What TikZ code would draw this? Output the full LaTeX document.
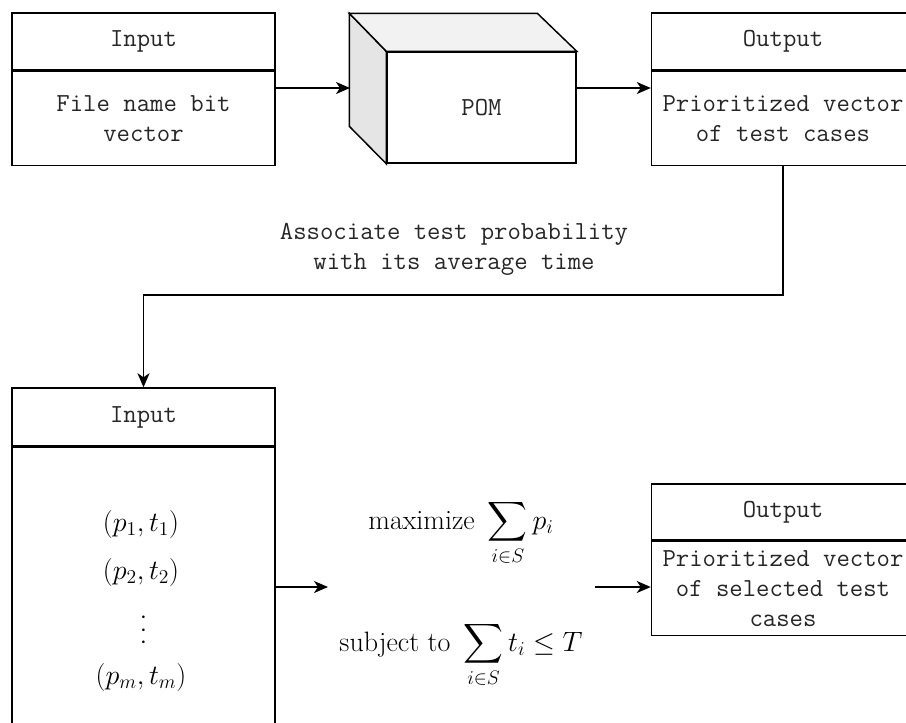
\documentclass[tikz,border=0pt]{standalone}
\usepackage{fix-cm}
\usepackage{amsmath}
\usepackage{fontspec}
\usetikzlibrary{arrows.meta,calc}
\newcommand{\px}{0.75pt}
\begin{document}
\begin{tikzpicture}[x=0.75pt,y=-0.75pt,line width=1.1pt,
  hdr/.style={draw,minimum width=263*\px,text=black!85,font=\ttfamily\fontsize{19.5}{22.5}\selectfont},
  body/.style={draw,minimum width=263*\px,align=center,text=black!85,font=\ttfamily\fontsize{19.5}{22.5}\selectfont},
  arr/.style={-{Stealth[length=14*\px,width=12*\px,inset=4*\px]}},
  mth/.style={font=\fontsize{21}{25}\selectfont}]
\useasboundingbox (0,0) rectangle (906,722);
\clip (0,0) rectangle (906,722);
% first row
\node[hdr,minimum height=57*\px] (in1h) at (143.5,41.5) {Input};
\node[body,minimum height=94*\px,anchor=north] (in1b) at (in1h.south) {File name bit\\vector};
\node[draw,fill=white,minimum width=189*\px,minimum height=111*\px,text=black!85,font=\ttfamily\fontsize{19.5}{22.5}\selectfont] (pom) at (481.5,107.5) {POM};
\filldraw[fill=black!10] (pom.north west) -- ++(-37,-38) -- ++(0,113) -- (pom.south west) -- cycle;
\filldraw[fill=black!5] (pom.north west) -- ++(-37,-38) -- ++(188,0) -- (pom.north east) -- cycle;
\coordinate (cubein) at (350,88);
\node[hdr,minimum height=57*\px] (out1h) at (783,41.5) {Output};
\node[body,minimum height=94*\px,anchor=north] (out1b) at (out1h.south) {Prioritized vector\\of test cases};
\draw[arr] (in1b.east |- cubein) -- (cubein);
\draw[arr] (pom.east |- cubein) -- (out1b.west |- cubein);
% second row
\node[hdr,minimum height=58*\px] (in2h) at (143.5,417) {Input};
\node[body,minimum height=282*\px,anchor=north] (in2b) at (in2h.south) {};
\node[mth] (pt1) at (141,524) {$(p_1,t_1)$};
\node[mth] (pt2) at (141,572) {$(p_2,t_2)$};
\node[mth] (ptd) at (143.5,630) {\rotatebox{-90}{$\ldots$}};
\node[mth] (ptm) at (141,677) {$(p_m,t_m)$};
\node[mth] (maxl) at (461,533) {$\displaystyle \text{maximize}\ \sum_{i\in S} p_i$};
\node[mth] (subl) at (461,655) {$\displaystyle \text{subject to}\ \sum_{i\in S} t_i \le T$};
\coordinate (optin) at (328,587);
\coordinate (optout) at (595,587);
\node[hdr,minimum height=56*\px] (out2h) at (783,512) {Output};
\node[body,minimum height=94*\px,anchor=north] (out2b) at (out2h.south) {Prioritized vector\\of selected test\\cases};
\draw[arr] (in2b.east |- optin) -- (optin);
\draw[arr] (optout) -- (out2b.west |- optout);
% link down
\coordinate (turn) at (460,295);
\node[text=black!85,font=\ttfamily\fontsize{19.5}{22.5}\selectfont,align=center] (assoc) at (454,249) {Associate test probability\\with its average time};
\draw[arr] (out1b.south) |- (turn) -| (in2h.north);
\end{tikzpicture}
\end{document}
